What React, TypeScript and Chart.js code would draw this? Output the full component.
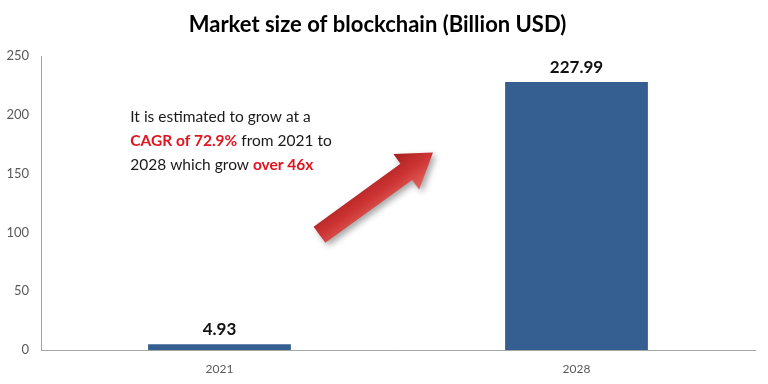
import React, { useEffect, useRef } from 'react';
import { Chart, registerables } from 'chart.js';

Chart.register(...registerables);

const categories = ['2021', '2028'];
const marketSize = [4.93, 227.99];
const yMin = 0;
const yMax = 250;
const yStep = 50;
const titleText = 'Market size of blockchain (Billion USD)';

type Seg = { t: string; red: boolean };
const noteLines: Seg[][] = [
  [{ t: 'It is estimated to grow at a', red: false }],
  [
    { t: 'CAGR of 72.9%', red: true },
    { t: ' from 2021 to', red: false },
  ],
  [
    { t: '2028 which grow ', red: false },
    { t: 'over 46x', red: true },
  ],
];
// annotation anchors in data space (category index, value)
const noteAnchor = { x: -0.25, y: 198 };
const arrowTail = { x: 0.28, y: 98 };
const arrowTip = { x: 0.598, y: 168 };

const FONT = 'Lato, "Open Sans", sans-serif';

const xAt = (chart: any, v: number) => {
  const s = chart.scales.x;
  const p0 = s.getPixelForValue(0);
  const p1 = s.getPixelForValue(1);
  return p0 + v * (p1 - p0);
};

const labelsPlugin = {
  id: 'barLabels',
  afterDatasetsDraw(chart: any) {
    const ctx = chart.ctx;
    const meta = chart.getDatasetMeta(0);
    ctx.save();
    ctx.font = `bold 17px ${FONT}`;
    ctx.fillStyle = '#111111';
    ctx.textAlign = 'center';
    ctx.textBaseline = 'bottom';
    meta.data.forEach((bar: any, i: number) => {
      ctx.fillText(marketSize[i].toFixed(2), bar.x, bar.y - 6);
    });
    ctx.restore();
  },
};

const notePlugin = {
  id: 'note',
  afterDraw(chart: any) {
    const ctx = chart.ctx;
    const ys = chart.scales.y;
    const x0 = xAt(chart, noteAnchor.x);
    const y0 = ys.getPixelForValue(noteAnchor.y);
    ctx.save();
    ctx.textBaseline = 'middle';
    ctx.textAlign = 'left';
    noteLines.forEach((line, li) => {
      let x = x0;
      line.forEach((seg) => {
        ctx.font = seg.red ? `bold 15.5px ${FONT}` : `15.5px ${FONT}`;
        ctx.fillStyle = seg.red ? '#e0141e' : '#1a1a1a';
        ctx.fillText(seg.t, x, y0 + li * 24);
        x += ctx.measureText(seg.t).width;
      });
    });

    // arrow
    const tx = xAt(chart, arrowTail.x);
    const ty = ys.getPixelForValue(arrowTail.y);
    const px = xAt(chart, arrowTip.x);
    const py = ys.getPixelForValue(arrowTip.y);
    const dx = px - tx;
    const dy = py - ty;
    const len = Math.hypot(dx, dy);
    const ux = dx / len;
    const uy = dy / len;
    const nx = -uy;
    const ny = ux;
    const w = 10;
    const h = 22;
    const L = 33;
    const bx = px - ux * L;
    const by = py - uy * L;
    const grad = ctx.createLinearGradient(tx + nx * h, ty + ny * h, tx - nx * h, ty - ny * h);
    grad.addColorStop(0, '#e4655e');
    grad.addColorStop(0.5, '#cc3333');
    grad.addColorStop(1, '#a61f1f');
    ctx.shadowColor = 'rgba(0,0,0,0.35)';
    ctx.shadowBlur = 6;
    ctx.shadowOffsetX = 3;
    ctx.shadowOffsetY = 3;
    ctx.fillStyle = grad;
    ctx.beginPath();
    ctx.moveTo(tx + nx * w, ty + ny * w);
    ctx.lineTo(bx + nx * w, by + ny * w);
    ctx.lineTo(bx + nx * h, by + ny * h);
    ctx.lineTo(px, py);
    ctx.lineTo(bx - nx * h, by - ny * h);
    ctx.lineTo(bx - nx * w, by - ny * w);
    ctx.lineTo(tx - nx * w, ty - ny * w);
    ctx.closePath();
    ctx.fill();
    ctx.restore();
  },
};

export default function App() {
  const ref = useRef<HTMLCanvasElement | null>(null);
  useEffect(() => {
    document.body.style.margin = '0';
    const canvas = ref.current;
    if (!canvas) return;
    const chart = new Chart(canvas, {
      type: 'bar',
      data: {
        labels: categories,
        datasets: [
          {
            data: marketSize,
            backgroundColor: '#365F91',
            borderWidth: 0,
            categoryPercentage: 0.8,
            barPercentage: 0.5,
          },
        ],
      },
      options: {
        animation: false,
        responsive: false,
        devicePixelRatio: 1,
        layout: { padding: { left: 0, right: 13, top: 0, bottom: 0 } },
        plugins: {
          legend: { display: false },
          tooltip: { enabled: false },
          title: {
            display: true,
            text: titleText,
            color: '#000000',
            font: { family: FONT, size: 22, weight: 'bold' },
            padding: { top: 12, bottom: 17.6 },
          },
        },
        scales: {
          x: {
            grid: { display: false, drawTicks: false },
            border: { display: true, color: '#a6a6a6', width: 1 },
            ticks: {
              color: '#595959',
              font: { family: FONT, size: 12 },
              padding: 12,
            },
            afterFit(scale: any) {
              scale.height = 34;
            },
          },
          y: {
            min: yMin,
            max: yMax,
            grid: { display: false, drawTicks: false },
            border: { display: true, color: '#a6a6a6', width: 1 },
            ticks: {
              stepSize: yStep,
              color: '#595959',
              font: { family: FONT, size: 13 },
              padding: 12,
            },
            afterFit(scale: any) {
              scale.width = 41;
            },
          },
        },
      },
      plugins: [labelsPlugin, notePlugin],
    });
    return () => chart.destroy();
  }, []);
  return (
    <div style={{ width: 768, height: 384 }}>
      <canvas ref={ref} width={768} height={384} style={{ width: 768, height: 384 }} />
    </div>
  );
}
